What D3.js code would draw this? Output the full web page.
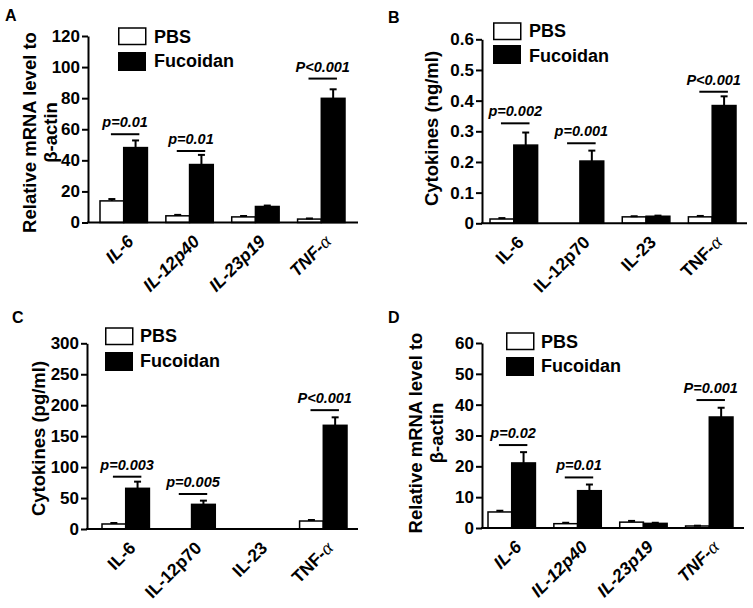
<!DOCTYPE html>
<html>
<head>
<meta charset="utf-8">
<script src="https://cdn.jsdelivr.net/npm/d3@7/dist/d3.min.js"></script>
<style>
  html, body { margin: 0; padding: 0; background: #fff; }
  svg { display: block; font-family: "Liberation Sans", Arial, sans-serif; }
</style>
</head>
<body>
<svg id="chart" width="753" height="608"></svg>
<script>
// ---------------- DATA ----------------
const seriesNames = ["PBS", "Fucoidan"];

// Panel A: Relative mRNA level to beta-actin
const catsA = ["IL-6", "IL-12p40", "IL-23p19", "TNF-α"];
const pbsA = [13.9, 4.3, 3.6, 2.2];
const pbsErrA = [1.2, 0.6, 0.6, 0.4];
const fucA = [48.2, 37.3, 10.3, 79.9];
const fucErrA = [4.6, 6.2, 0.6, 5.8];
const sigLabelsA = ["p=0.01", "p=0.01", null, "P<0.001"];
const sigLevelsA = [56.8, 46.0, null, 92.6];
const yTicksA = [0, 20, 40, 60, 80, 100, 120];

// Panel B: Cytokines (ng/ml)
const catsB = ["IL-6", "IL-12p70", "IL-23", "TNF-α"];
const pbsB = [0.014, 0.0, 0.021, 0.021];
const pbsErrB = [0.003, 0.0, 0.002, 0.003];
const fucB = [0.255, 0.203, 0.023, 0.384];
const fucErrB = [0.041, 0.034, 0.002, 0.030];
const sigLabelsB = ["p=0.002", "p=0.001", null, "P<0.001"];
const sigLevelsB = [0.326, 0.261, null, 0.429];
const yTicksB = [0, 0.1, 0.2, 0.3, 0.4, 0.5, 0.6];

// Panel C: Cytokines (pg/ml)
const catsC = ["IL-6", "IL-12p70", "IL-23", "TNF-α"];
const pbsC = [8.1, 0, 0, 12.9];
const pbsErrC = [1.6, 0, 0, 1.6];
const fucC = [65.7, 39.8, 0, 167.5];
const fucErrC = [10.8, 6.0, 0, 12.9];
const sigLabelsC = ["p=0.003", "p=0.005", null, "P<0.001"];
const sigLevelsC = [84.5, 56.5, null, 192];
const yTicksC = [0, 50, 100, 150, 200, 250, 300];

// Panel D: Relative mRNA level to beta-actin
const catsD = ["IL-6", "IL-12p40", "IL-23p19", "TNF-α"];
const pbsD = [5.2, 1.4, 1.9, 0.65];
const pbsErrD = [0.4, 0.3, 0.4, 0.1];
const fucD = [21.1, 12.1, 1.5, 36.0];
const fucErrD = [3.5, 2.0, 0.2, 3.0];
const sigLabelsD = ["p=0.02", "p=0.01", null, "P=0.001"];
const sigLevelsD = [26.9, 16.4, null, 41.5];
const yTicksD = [0, 10, 20, 30, 40, 50, 60];

const panelData = [
  { letter: "A", cats: catsA, pbs: pbsA, pbsErr: pbsErrA, fuc: fucA, fucErr: fucErrA,
    sigLabels: sigLabelsA, sigLevels: sigLevelsA, ticks: yTicksA,
    title: ["Relative mRNA level to", "β-actin"] },
  { letter: "B", cats: catsB, pbs: pbsB, pbsErr: pbsErrB, fuc: fucB, fucErr: fucErrB,
    sigLabels: sigLabelsB, sigLevels: sigLevelsB, ticks: yTicksB,
    title: ["Cytokines (ng/ml)"] },
  { letter: "C", cats: catsC, pbs: pbsC, pbsErr: pbsErrC, fuc: fucC, fucErr: fucErrC,
    sigLabels: sigLabelsC, sigLevels: sigLevelsC, ticks: yTicksC,
    title: ["Cytokines (pg/ml)"] },
  { letter: "D", cats: catsD, pbs: pbsD, pbsErr: pbsErrD, fuc: fucD, fucErr: fucErrD,
    sigLabels: sigLabelsD, sigLevels: sigLevelsD, ticks: yTicksD,
    title: ["Relative mRNA level to", "β-actin"] }
];

// ---------------- LAYOUT ----------------
const layouts = [
  { letterX: 5, letterY: 21, axisX: 88, axisRight: 358, bandL: 100, bandR: 345, yTop: 36, yBottom: 222.5,
    titleX: [36, 57], titleY: 132.5, legX: 118, legY: [28, 52], legTextX: 154, legTextY: [43, 67], italicX: true },
  { letterX: 388, letterY: 23, axisX: 482, axisRight: 747, bandL: 490, bandR: 736, yTop: 39.3, yBottom: 223.3,
    titleX: [438], titleY: 128.5, legX: 493, legY: [23, 45], legTextX: 529, legTextY: [37, 62], italicX: false },
  { letterX: 12, letterY: 323, axisX: 87, axisRight: 358, bandL: 102, bandR: 347, yTop: 343.3, yBottom: 529,
    titleX: [45], titleY: 438.5, legX: 105, legY: [328, 352], legTextX: 140, legTextY: [342, 367], italicX: false },
  { letterX: 388, letterY: 323, axisX: 482, axisRight: 744, bandL: 488, bandR: 733, yTop: 343, yBottom: 528,
    titleX: [422, 443], titleY: 433, legX: 506, legY: [333, 357], legTextX: 541, legTextY: [348, 372], italicX: true }
];

const svg = d3.select("#chart");

panelData.forEach((p, i) => {
  const L = layouts[i];
  const g = svg.append("g");

  const yMax = p.ticks[p.ticks.length - 1];
  const y = d3.scaleLinear().domain([0, yMax]).range([L.yBottom, L.yTop]);
  const x0 = d3.scaleBand().domain(p.cats).range([L.bandL, L.bandR]).paddingInner(0.28).paddingOuter(0);
  const x1 = d3.scaleBand().domain(seriesNames).range([0, x0.bandwidth()]).padding(0);

  const rows = p.cats.map((c, k) => ({
    cat: c,
    vals: [
      { s: "PBS", v: p.pbs[k], e: p.pbsErr[k] },
      { s: "Fucoidan", v: p.fuc[k], e: p.fucErr[k] }
    ],
    sig: p.sigLabels[k], sigLevel: p.sigLevels[k]
  }));

  // panel letter
  g.append("text").attr("x", L.letterX).attr("y", L.letterY)
    .attr("font-size", 16).attr("font-weight", "bold").text(p.letter);

  // bars
  const grp = g.selectAll("g.grp").data(rows).enter().append("g")
    .attr("class", "grp")
    .attr("transform", d => `translate(${x0(d.cat)},0)`);

  grp.selectAll("rect").data(d => d.vals.filter(v => v.v > 0)).enter().append("rect")
    .attr("x", d => x1(d.s))
    .attr("y", d => y(d.v))
    .attr("width", x1.bandwidth())
    .attr("height", d => y(0) - y(d.v))
    .attr("fill", d => d.s === "PBS" ? "#fff" : "#000")
    .attr("stroke", "#000").attr("stroke-width", 1.5);

  // error bars (upper only)
  const eb = grp.selectAll("g.eb").data(d => d.vals.filter(v => v.e > 0)).enter().append("g");
  eb.append("line")
    .attr("x1", d => x1(d.s) + x1.bandwidth() / 2).attr("x2", d => x1(d.s) + x1.bandwidth() / 2)
    .attr("y1", d => y(d.v)).attr("y2", d => y(d.v + d.e))
    .attr("stroke", "#000").attr("stroke-width", 2);
  eb.append("line")
    .attr("x1", d => x1(d.s) + x1.bandwidth() / 2 - 3.5).attr("x2", d => x1(d.s) + x1.bandwidth() / 2 + 3.5)
    .attr("y1", d => y(d.v + d.e)).attr("y2", d => y(d.v + d.e))
    .attr("stroke", "#000").attr("stroke-width", 2);

  // significance annotations
  const sg = grp.filter(d => d.sig !== null);
  const bw = x0.bandwidth();
  sg.append("line")
    .attr("x1", bw * 0.23).attr("x2", bw * 0.83)
    .attr("y1", d => y(d.sigLevel)).attr("y2", d => y(d.sigLevel))
    .attr("stroke", "#000").attr("stroke-width", 2);
  sg.append("text")
    .attr("x", bw * 0.53).attr("y", d => y(d.sigLevel) - 7)
    .attr("text-anchor", "middle").attr("font-size", 14.5)
    .attr("font-weight", "bold").attr("font-style", "italic")
    .text(d => d.sig);

  // y axis
  const fmt = v => v === 0 ? "0" : (yMax < 1 ? d3.format(".1f")(v) : d3.format("d")(v));
  const ya = g.append("g").attr("transform", `translate(${L.axisX},0)`)
    .call(d3.axisLeft(y).tickValues(p.ticks).tickFormat(fmt).tickSize(6).tickSizeOuter(0).tickPadding(2));
  ya.select(".domain").attr("stroke-width", 2);
  ya.selectAll(".tick line").attr("stroke-width", 2);
  ya.selectAll(".tick text").attr("font-size", 17).attr("font-weight", "bold")
    .attr("font-family", "Liberation Sans, Arial, sans-serif").attr("fill", "#000");

  // x axis baseline
  g.append("line").attr("x1", L.axisX - 1).attr("x2", L.axisRight)
    .attr("y1", y(0)).attr("y2", y(0)).attr("stroke", "#000").attr("stroke-width", 2);

  // x labels (rotated -45deg)
  const xl = g.selectAll("text.xl").data(p.cats).enter().append("text")
    .attr("class", "xl")
    .attr("transform", c => `translate(${x0(c) + x0.bandwidth() / 2 + 11},${y(0) + 20}) rotate(-45)`)
    .attr("text-anchor", "end").attr("font-size", 17.5).attr("font-weight", "bold")
    .attr("font-style", L.italicX ? "italic" : "normal");
  xl.each(function (c) {
    const t = d3.select(this);
    if (c.endsWith("α")) {
      t.append("tspan").text(c.slice(0, -1));
      t.append("tspan").text("α").attr("font-style", "italic").attr("font-weight", "normal")
        .attr("font-family", "Liberation Serif, serif").attr("font-size", 19);
    } else {
      t.text(c);
    }
  });

  // y title
  p.title.forEach((line, k) => {
    g.append("text")
      .attr("transform", `translate(${L.titleX[k]},${L.titleY}) rotate(-90)`)
      .attr("text-anchor", "middle").attr("font-size", 18.5).attr("font-weight", "bold")
      .text(line);
  });

  // legend
  seriesNames.forEach((s, k) => {
    g.append("rect")
      .attr("x", L.legX + (s === "PBS" ? 0.75 : 0)).attr("y", L.legY[k])
      .attr("width", s === "PBS" ? 27 : 28).attr("height", s === "PBS" ? 16.5 : 19)
      .attr("fill", s === "PBS" ? "#fff" : "#000").attr("stroke", s === "PBS" ? "#000" : "none")
      .attr("stroke-width", 1.5);
    g.append("text").attr("x", L.legTextX).attr("y", L.legTextY[k])
      .attr("font-size", 18).attr("font-weight", "bold").text(s);
  });
});
</script>
</body>
</html>
